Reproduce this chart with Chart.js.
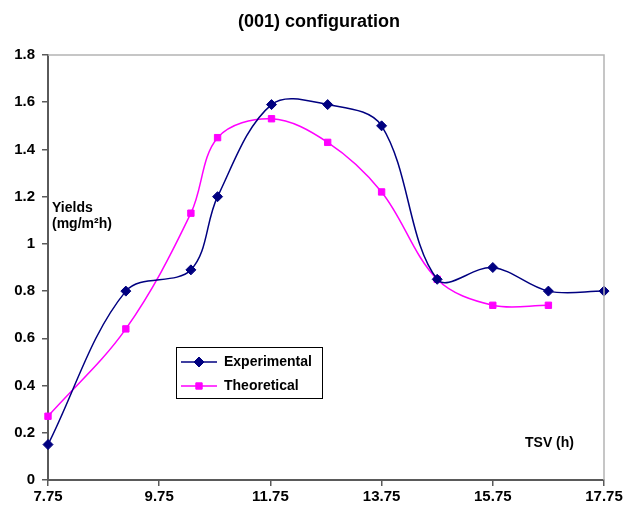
<!DOCTYPE html>
<html>
<head>
<meta charset="utf-8">
<script src="https://cdn.jsdelivr.net/npm/chart.js@4/dist/chart.umd.min.js"></script>
<style>
  html, body { margin: 0; padding: 0; background: #fff; }
  canvas { display: block; }
</style>
</head>
<body>
<canvas id="yieldChart" width="634" height="507"></canvas>
<script>
// TSV (h) of each measurement, and yields in mg/m²h
const tsvHours = [7.75, 9.15, 10.32, 10.8, 11.77, 12.78, 13.75, 14.75, 15.75, 16.75, 17.75];
const experimental = [0.15, 0.80, 0.89, 1.20, 1.59, 1.59, 1.50, 0.85, 0.90, 0.80, 0.80];
const theoretical = [0.27, 0.64, 1.13, 1.45, 1.53, 1.43, 1.22, 0.85, 0.74, 0.74];
const xTicks = [7.75, 9.75, 11.75, 13.75, 15.75, 17.75];
const yTicks = [0, 0.2, 0.4, 0.6, 0.8, 1, 1.2, 1.4, 1.6, 1.8];

const FONT = '"Liberation Sans", Arial, sans-serif';
const AXIS = '#5a5a5a';

function pairs(values) {
    return values.map((v, i) => ({ x: tsvHours[i], y: v }));
}

// title, axis captions, legend box and the light top/right frame
const decorations = {
    id: 'decorations',
    afterDraw(chart) {
        const ctx = chart.ctx;
        const a = chart.chartArea;
        ctx.save();
        ctx.strokeStyle = '#b4b4b4';
        ctx.lineWidth = 1.5;
        ctx.beginPath();
        ctx.moveTo(a.left, a.top);
        ctx.lineTo(a.right, a.top);
        ctx.lineTo(a.right, a.bottom);
        ctx.stroke();

        ctx.fillStyle = '#000';
        ctx.textBaseline = 'middle';
        ctx.textAlign = 'center';
        ctx.font = 'bold 18px ' + FONT;
        ctx.fillText('(001) configuration', 319, 22);

        ctx.textAlign = 'left';
        ctx.font = 'bold 14px ' + FONT;
        ctx.fillText('Yields', 52, 208);
        ctx.fillText('(mg/m²h)', 52, 224);
        ctx.fillText('TSV (h)', 525, 443);

        // legend
        ctx.strokeStyle = '#000';
        ctx.lineWidth = 1;
        ctx.strokeRect(176.5, 347.5, 146, 51);
        const rows = [
            { ds: chart.data.datasets[0], y: 362 },
            { ds: chart.data.datasets[1], y: 386 }
        ];
        rows.forEach(r => {
            ctx.strokeStyle = r.ds.borderColor;
            ctx.fillStyle = r.ds.backgroundColor;
            ctx.lineWidth = 1.5;
            ctx.beginPath();
            ctx.moveTo(181, r.y);
            ctx.lineTo(217, r.y);
            ctx.stroke();
            ctx.lineWidth = 1;
            Chart.helpers.drawPoint(ctx, {
                pointStyle: r.ds.pointStyle,
                radius: r.ds.pointRadius,
                rotation: 0,
                borderWidth: 1
            }, 199, r.y);
            ctx.fillStyle = '#000';
            ctx.font = 'bold 14px ' + FONT;
            ctx.fillText(r.ds.label, 224, r.y);
        });
        ctx.restore();
    }
};

new Chart(document.getElementById('yieldChart'), {
    type: 'line',
    data: {
        datasets: [{
            label: 'Experimental',
            data: pairs(experimental),
            borderColor: '#000080',
            backgroundColor: '#000080',
            borderWidth: 1.5,
            pointStyle: 'rectRot',
            pointRadius: 5,
            pointBorderWidth: 1,
            tension: 0.35,
            clip: false
        }, {
            label: 'Theoretical',
            data: pairs(theoretical),
            borderColor: '#FF00FF',
            backgroundColor: '#FF00FF',
            borderWidth: 1.5,
            pointStyle: 'rect',
            pointRadius: 4.5,
            pointBorderWidth: 1,
            tension: 0.35,
            clip: false
        }]
    },
    options: {
        responsive: false,
        animation: false,
        devicePixelRatio: 1,
        layout: { padding: { top: 55, right: 30, left: 0, bottom: 0 } },
        plugins: {
            legend: { display: false },
            title: { display: false },
            tooltip: { enabled: false }
        },
        scales: {
            x: {
                type: 'linear',
                min: 7.75,
                max: 17.75,
                afterBuildTicks: s => { s.ticks = xTicks.map(v => ({ value: v })); },
                afterFit: s => { s.height = 27; },
                grid: { drawOnChartArea: false, color: AXIS, tickLength: 6, lineWidth: 1.5 },
                border: { color: AXIS, width: 2 },
                ticks: {
                    color: '#000',
                    padding: 2,
                    maxRotation: 0,
                    font: { family: FONT, size: 15, weight: 'bold' },
                    callback: v => String(v)
                }
            },
            y: {
                min: 0,
                max: 1.8,
                afterBuildTicks: s => { s.ticks = yTicks.map(v => ({ value: v })); },
                afterFit: s => { s.width = 48; },
                grid: { drawOnChartArea: false, color: AXIS, tickLength: 6, lineWidth: 1.5 },
                border: { color: AXIS, width: 2 },
                ticks: {
                    color: '#000',
                    padding: 7,
                    font: { family: FONT, size: 15, weight: 'bold' },
                    callback: v => String(Number(v.toFixed(2)))
                }
            }
        }
    },
    plugins: [decorations]
});
</script>
</body>
</html>
